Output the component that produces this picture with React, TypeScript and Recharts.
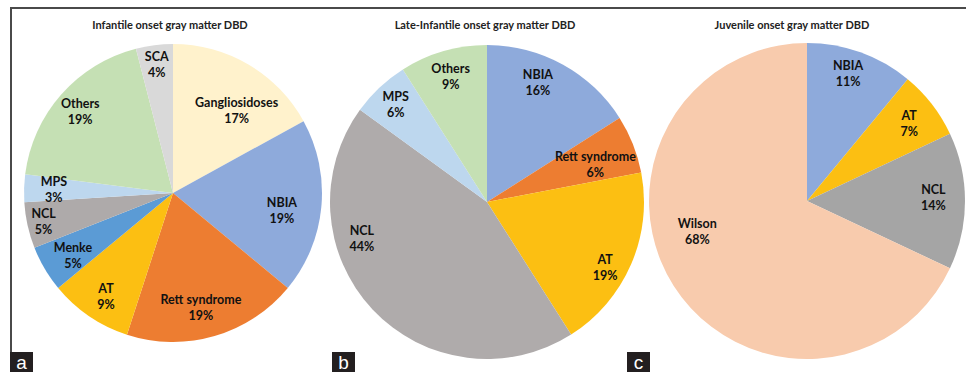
import { PieChart, Pie, Cell } from "recharts";

const infantileNames = ["Gangliosidoses", "NBIA", "Rett syndrome", "AT", "Menke", "NCL", "MPS", "Others", "SCA"];
const infantileValues = [17, 19, 19, 9, 5, 5, 3, 19, 4];

const lateNames = ["NBIA", "Rett syndrome", "AT", "NCL", "MPS", "Others"];
const lateValues = [16, 6, 19, 44, 6, 9];

const juvenileNames = ["NBIA", "AT", "NCL", "Wilson"];
const juvenileValues = [11, 7, 14, 68];

const titles = [
  "Infantile onset gray matter DBD",
  "Late-Infantile onset gray matter DBD",
  "Juvenile onset gray matter DBD",
];
const panelLetters = ["a", "b", "c"];

const colors: Record<string, string> = {
  Gangliosidoses: "#fff2cc",
  NBIA: "#8eaadb",
  "Rett syndrome": "#ed7d31",
  AT: "#fcbf12",
  Menke: "#5b9bd5",
  NCL: "#aeaaaa",
  MPS: "#bdd7ee",
  Others: "#c5e0b4",
  SCA: "#d9d9d9",
  Wilson: "#f8cbad",
};

const font = "Lato, 'Open Sans', sans-serif";
const RAD = Math.PI / 180;

// label placement tweaks: [radius fraction, clockwise shift in degrees]
const infantileLabelPos = [[0.7, 7], [0.74, 3.5], [0.79, 2.5], [0.83, -1.4], [0.79, -1.2], [0.89, 0], [0.8, 0], [0.83, 0], [0.87, 0]];
const lateLabelPos = [[0.83, -5.8], [0.73, 2.6], [0.86, 5.6], [0.83, 27], [0.85, 0], [0.83, 0]];
const juvenileLabelPos = [[0.85, -2], [0.81, 0.8], [0.8, -1.4], [0.72, 17]];

const toRows = (names: string[], values: number[]) => names.map((name, i) => ({ name, value: values[i] }));

const makeLabel = (pos: number[][]) => (props: any) => {
  const { cx, cy, midAngle, outerRadius, index, name, value } = props;
  const [f, shift] = pos[index];
  const a = (midAngle - shift) * RAD;
  const r = outerRadius * f;
  const x = cx + r * Math.cos(a);
  const y = cy - r * Math.sin(a);
  return (
    <text x={x} y={y} textAnchor="middle" fill="#111" fontFamily={font} fontWeight="bold" fontSize={12.5}>
      <tspan x={x} y={y - 8} dominantBaseline="central">{name}</tspan>
      <tspan x={x} y={y + 8} dominantBaseline="central">{value}%</tspan>
    </text>
  );
};

const pies = [
  { rows: toRows(infantileNames, infantileValues), pos: infantileLabelPos, cx: 173, cy: 193, r: 149, ncl: "#aeaaaa" },
  { rows: toRows(lateNames, lateValues), pos: lateLabelPos, cx: 487, cy: 202, r: 157, ncl: "#afabab" },
  { rows: toRows(juvenileNames, juvenileValues), pos: juvenileLabelPos, cx: 807, cy: 201, r: 158, ncl: "#a5a5a5" },
];

const titleCenters = [170, 485, 792];
const letterLefts = [10, 332, 627];

export default function App() {
  return (
    <div style={{ position: "absolute", left: 0, top: 0, width: 966, height: 372, background: "#fff", overflow: "hidden" }}>
      <div style={{ position: "absolute", left: 10, top: 7, width: 956, height: 2, background: "#4a4a4a" }} />
      <div style={{ position: "absolute", left: 10, top: 7, width: 2, height: 346, background: "#4a4a4a" }} />
      <PieChart
        width={966}
        height={372}
        margin={{ top: 0, right: 0, bottom: 0, left: 0 }}
        style={{ position: "absolute", left: 0, top: 0 }}
      >
        {pies.map((p, k) => (
          <Pie
            key={k}
            data={p.rows}
            dataKey="value"
            nameKey="name"
            cx={p.cx}
            cy={p.cy}
            outerRadius={p.r}
            startAngle={90}
            endAngle={-270}
            stroke="none"
            labelLine={false}
            label={makeLabel(p.pos)}
            isAnimationActive={false}
          >
            {p.rows.map((row, i) => (
              <Cell key={i} fill={row.name === "NCL" ? p.ncl : colors[row.name]} />
            ))}
          </Pie>
        ))}
      </PieChart>
      {titles.map((t, i) => (
        <div
          key={t}
          style={{
            position: "absolute",
            left: titleCenters[i] - 150,
            width: 300,
            top: 18,
            textAlign: "center",
            fontFamily: font,
            fontWeight: "bold",
            fontSize: 11,
            color: "#222",
          }}
        >
          {t}
        </div>
      ))}
      {panelLetters.map((l, i) => (
        <div
          key={l}
          style={{
            position: "absolute",
            left: letterLefts[i],
            top: 352,
            width: 23,
            height: 20,
            background: "#231f20",
            color: "#fff",
            fontFamily: "'Liberation Sans', Arial, sans-serif",
            fontSize: 19,
            lineHeight: "22px",
            textAlign: "center",
          }}
        >
          {l}
        </div>
      ))}
    </div>
  );
}
